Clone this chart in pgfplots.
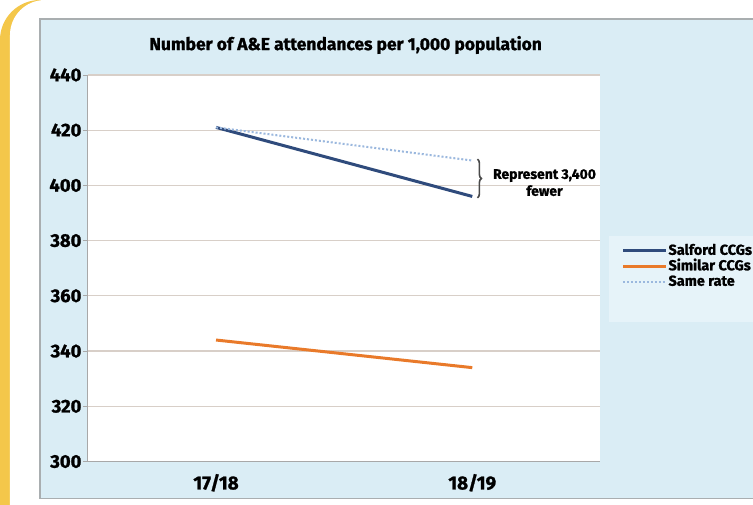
\documentclass[border=0pt]{standalone}
\usepackage{fontspec}
\setmainfont{Fira Sans}[BoldFeatures={FakeBold=1.2}]
\usepackage{pgfplots}
\pgfplotsset{compat=1.18}
\usetikzlibrary{decorations.pathreplacing}

\definecolor{salford}{HTML}{2F4B7C}
\definecolor{similar}{HTML}{E97A2A}
\definecolor{samerate}{HTML}{9BB8DE}
\definecolor{gridc}{HTML}{D8CFC8}
\definecolor{axisc}{HTML}{A8A8A8}
\definecolor{panelblue}{HTML}{DAEDF5}
\definecolor{panelborder}{HTML}{A9AEB0}
\definecolor{legendbg}{HTML}{E6F3F9}
\definecolor{cardyellow}{HTML}{F4C74A}
\definecolor{bracegray}{HTML}{4A4A4A}

\begin{document}
\begin{tikzpicture}
  % background card and panel, in image pixels (y downwards)
  \begin{scope}[x=1bp,y=-1bp]
    \useasboundingbox (0,0) rectangle (753,505);
    \fill[white] (0,0) rectangle (753,505);
    \fill[cardyellow, rounded corners=40bp] (0,0) rectangle (800,560);
    \fill[white, rounded corners=35bp] (10,0) rectangle (800,560);
    \draw[panelborder, line width=1.2bp, fill=panelblue] (40,19) rectangle (770,499);
    \fill[legendbg] (610,236) rectangle (770,322);
    \node[font=\bfseries\fontsize{17.5}{17.5}\selectfont] at (346,45)
      {Number of A\&E attendances per 1,000 population};
  \end{scope}

  \begin{axis}[
      at={(88bp,-462bp)}, anchor=south west,
      scale only axis, width=513bp, height=387bp,
      axis background/.style={fill=white},
      xmin=0, xmax=2, ymin=300, ymax=440,
      axis lines=left, axis line style={-, axisc, line width=1bp},
      clip=false,
      xtick={0.5,1.5}, xticklabels={17/18,18/19},
      major x tick style={draw=none},
      extra x ticks={0,1,2}, extra x tick labels={},
      extra x tick style={major tick style={axisc, line width=0.8bp}, major tick length=5bp, tick align=outside},
      ytick={300,320,...,440},
      tick align=outside, major tick length=5bp,
      major y tick style={axisc, line width=0.8bp},
      ymajorgrids, grid style={gridc, line width=1.2bp},
      /pgf/number format/assume math mode=true,
      yticklabel style={font=\bfseries\fontsize{18.5}{18.5}\selectfont, text=black, xshift=2bp},
      xticklabel style={font=\bfseries\fontsize{19}{19}\selectfont, text=black, yshift=-4bp},
      legend cell align=left,
      legend style={at={(1.041,0.505)}, anchor=west, draw=none, fill=none,
        inner sep=0pt, row sep=1.5bp,
        font=\bfseries\fontsize{14.5}{14.5}\selectfont,
        nodes={inner sep=1bp, text height=10bp, text depth=2bp}},
      legend image code/.code={\draw[#1] (0bp,0bp) -- (43bp,0bp);},
    ]
    \addplot[salford, line width=3bp] coordinates {(0.5,421) (1.5,396)};
    \addlegendentry{Salford CCGs}
    \addplot[similar, line width=3bp] coordinates {(0.5,344) (1.5,334)};
    \addlegendentry{Similar CCGs}
    \addplot[samerate, line width=2bp, dotted] coordinates {(0.5,421) (1.5,409)};
    \addlegendentry{Same rate}

    \draw[bracegray, line width=1.6bp, decorate, decoration={brace, amplitude=4bp}]
      (axis cs:1.52,409.5) -- (axis cs:1.52,395.5);
    \node[font=\bfseries\fontsize{14}{17}\selectfont, align=center]
      at (axis cs:1.782,401) {Represent 3,400\\fewer};
  \end{axis}
\end{tikzpicture}
\end{document}
